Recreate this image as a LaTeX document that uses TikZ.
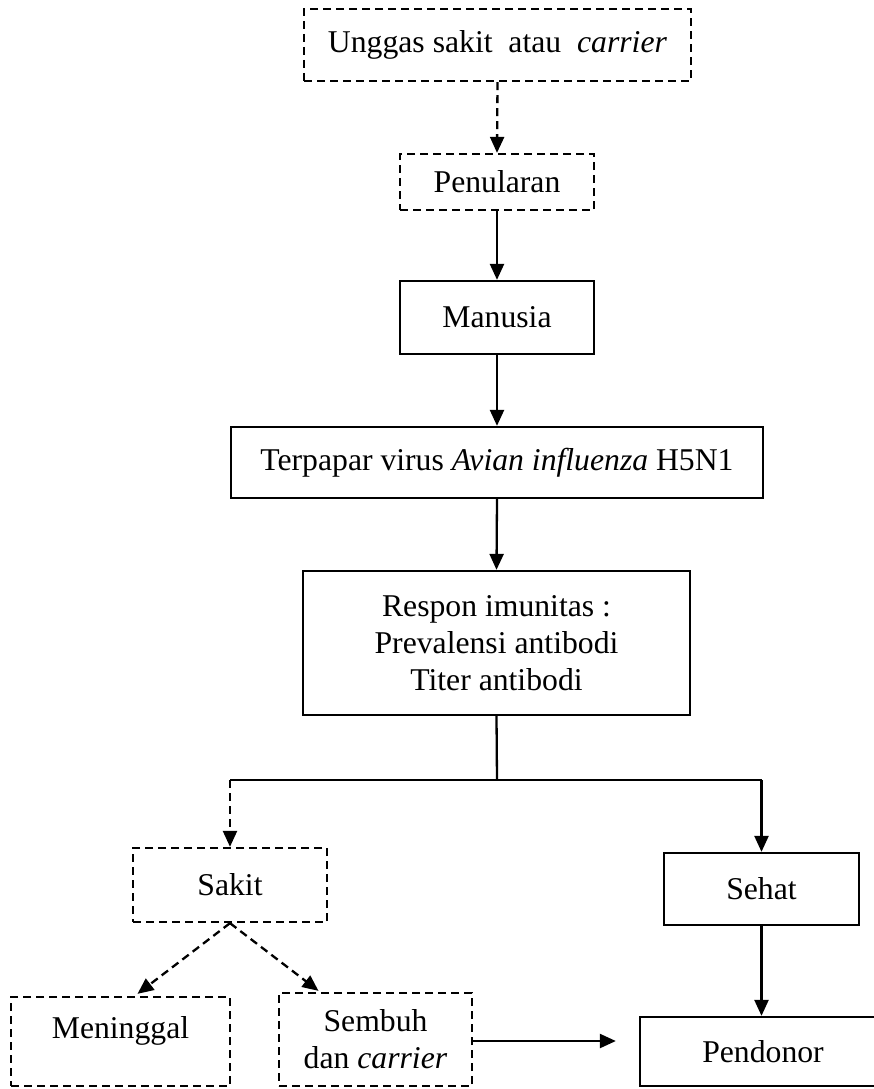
\documentclass[tikz,border=0pt]{standalone}
\usepackage{fontspec}
\setmainfont{Liberation Serif}
\usetikzlibrary{arrows.meta}
\begin{document}
\begin{tikzpicture}[x=1pt,y=-1pt,
  every node/.style={font=\fontsize{31.7}{37}\selectfont, inner sep=0pt},
  solidbox/.style={draw, line width=2.3pt},
  dashbox/.style={draw, line width=2.3pt, dash pattern=on 8pt off 5pt},
  conn/.style={line width=2.3pt, -{Triangle[width=14pt,length=16pt]}},
  dconn/.style={conn, dash pattern=on 8pt off 5pt},
  plain/.style={line width=2.3pt}]
\useasboundingbox (0,0) rectangle (873,1089);
\node[dashbox, minimum width=387pt, minimum height=72pt] (b1) at (497.5,45) {Unggas sakit\ \ atau\ \ \textit{carrier}};
\node[dashbox, minimum width=194pt, minimum height=56pt] (b2) at (497,182) {Penularan};
\node[solidbox, minimum width=194pt, minimum height=73pt] (b3) at (497,317.5) {Manusia};
\node[solidbox, minimum width=532pt, minimum height=71pt] (b4) at (497,462.5) {Terpapar virus \textit{Avian influenza} H5N1};
\node[solidbox, minimum width=387pt, minimum height=144pt, align=center] (b5) at (496.5,643) {Respon imunitas :\\Prevalensi antibodi\\Titer antibodi};
\node[dashbox, minimum width=194pt, minimum height=74pt] (sakit) at (230,885) {Sakit};
\node[solidbox, minimum width=195pt, minimum height=72pt] (sehat) at (761.5,889) {Sehat};
\node[dashbox, minimum width=219pt, minimum height=89pt, text depth=28pt] (mati) at (120.5,1041.5) {Meninggal};
\node[dashbox, minimum width=193pt, minimum height=93pt, align=center] (sembuh) at (375.5,1039.5) {Sembuh\\dan \textit{carrier}};
\node[solidbox, minimum width=246pt, minimum height=69pt] (donor) at (763,1051.5) {Pendonor};
\coordinate (split) at (497,780);
\coordinate (se) at ([yshift=-1.5pt]sembuh.east);
\coordinate (de) at ([xshift=-23pt]donor.west |- se);
\draw[dconn] (b1.south) -- (b2.north);
\draw[conn] (b2.south) -- (b3.north);
\draw[conn] (b3.south) -- (b4.north);
\draw[conn] (b4.south) -- (b5.north);
\draw[plain] (b5.south) -- (split);
\draw[plain] (sakit.north |- split) -- (sehat.north |- split);
\draw[dconn] (sakit.north |- split) -- (sakit.north);
\draw[conn] (sehat.north |- split) -- (sehat.north);
\draw[dconn] (sakit.south) -- ([xshift=17pt,yshift=2pt]mati.north);
\draw[dconn] (sakit.south) -- ([xshift=-57pt,yshift=1pt]sembuh.north);
\draw[conn] (sehat.south) -- (sehat.south |- donor.north);
\draw[conn] (se) -- (de);
\end{tikzpicture}
\end{document}
